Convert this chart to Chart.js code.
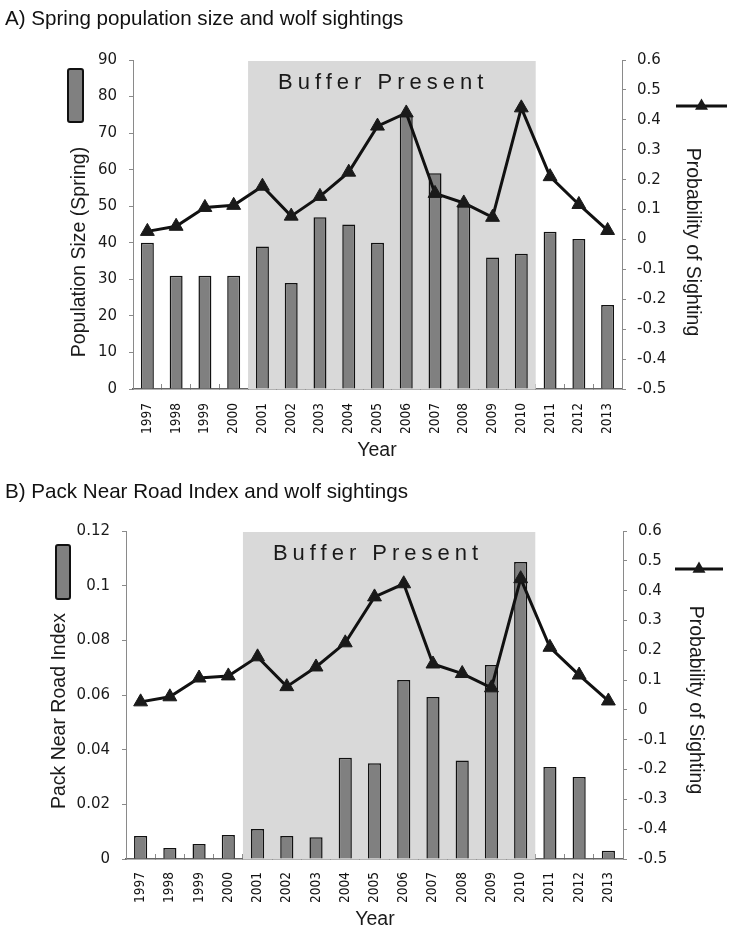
<!DOCTYPE html>
<html><head><meta charset="utf-8">
<script src="https://cdn.jsdelivr.net/npm/chart.js@4.4.1/dist/chart.umd.min.js"></script>
<style>
html,body{margin:0;padding:0;background:#fff;}
body{width:729px;height:932px;position:relative;overflow:hidden;}
.panel{position:absolute;left:0;width:729px;height:466px;}
.ttl{position:absolute;left:5px;font-family:'Liberation Sans',Arial,sans-serif;font-size:20.6px;line-height:1;color:#111;white-space:nowrap;z-index:2;}
</style></head><body>
<div class="panel" style="top:0"><canvas id="cA"></canvas></div>
<div class="panel" style="top:466px"><canvas id="cB"></canvas></div>
<div class="ttl" style="top:8px">A) Spring population size and wolf sightings</div>
<div class="ttl" style="top:481px">B) Pack Near Road Index and wolf sightings</div>
<script>
const years = ['1997','1998','1999','2000','2001','2002','2003','2004','2005','2006','2007','2008','2009','2010','2011','2012','2013'];
const popSpring = [40,31,31,31,39,29,47,45,40,75,59,50,36,37,43,41,23];
const nearRoadIndex = [0.0084,0.004,0.0055,0.0088,0.011,0.0084,0.008,0.037,0.035,0.0655,0.0593,0.036,0.071,0.1087,0.0337,0.030,0.003];
const sightProb = [0.027,0.044,0.107,0.114,0.178,0.078,0.144,0.225,0.379,0.423,0.154,0.122,0.074,0.44,0.21,0.117,0.03];
const popTicks = [0,10,20,30,40,50,60,70,80,90];
const roadTicks = [0,0.02,0.04,0.06,0.08,0.1,0.12];
const probTicks = [-0.5,-0.4,-0.3,-0.2,-0.1,0,0.1,0.2,0.3,0.4,0.5,0.6];
const bufferYears = ['2001','2010'];
const bufferLabel = 'Buffer Present';

const TICK_FONT = {family:"'DejaVu Sans', Verdana, sans-serif", size:15};
const XTICK_FONT = {family:"'DejaVu Sans Condensed', 'DejaVu Sans', sans-serif", size:13.5};
const TITLE_FONT = "19.5px 'Liberation Sans', Arial, sans-serif";

function triangle(ctx, x, y, r) {
  ctx.beginPath();
  ctx.moveTo(x, y - r);
  ctx.lineTo(x + r * 0.866, y + r * 0.5);
  ctx.lineTo(x - r * 0.866, y + r * 0.5);
  ctx.closePath();
  ctx.fill();
}

const decorPlugin = {
  id: 'decor',
  beforeDatasetsDraw(chart, args, o) {
    const {ctx, chartArea, scales: {x}} = chart;
    const i0 = years.indexOf(bufferYears[0]), i1 = years.indexOf(bufferYears[1]);
    const left = (x.getPixelForValue(i0 - 1) + x.getPixelForValue(i0)) / 2;
    const right = (x.getPixelForValue(i1) + x.getPixelForValue(i1 + 1)) / 2;
    ctx.save();
    ctx.fillStyle = '#d9d9d9';
    ctx.fillRect(left, chartArea.top + 1, right - left, chartArea.bottom - chartArea.top - 1);
    ctx.fillStyle = '#1a1a1a';
    ctx.font = "22px 'Liberation Sans', Arial, sans-serif";
    ctx.textBaseline = 'middle';
    ctx.textAlign = 'left';
    if ('letterSpacing' in ctx) ctx.letterSpacing = '5px';
    ctx.fillText(bufferLabel, left + 30, chartArea.top + 23);
    ctx.restore();
  },
  afterDraw(chart, args, o) {
    const {ctx} = chart;
    ctx.save();
    ctx.fillStyle = '#1a1a1a';
    ctx.font = TITLE_FONT;
    ctx.textAlign = 'center';
    ctx.textBaseline = 'middle';
    ctx.save(); ctx.translate(o.lx, o.ly); ctx.rotate(-Math.PI / 2); ctx.fillText(o.leftTitle, 0, 0); ctx.restore();
    ctx.save(); ctx.translate(o.rx, o.ry); ctx.rotate(Math.PI / 2); ctx.fillText(o.rightTitle, 0, 0); ctx.restore();
    ctx.fillText('Year', o.yearX, o.yearY);
    ctx.fillStyle = '#808080';
    ctx.strokeStyle = '#111';
    ctx.lineWidth = 2;
    ctx.beginPath();
    if (ctx.roundRect) ctx.roundRect(o.barLeg[0], o.barLeg[1], o.barLeg[2], o.barLeg[3], 2);
    else ctx.rect(o.barLeg[0], o.barLeg[1], o.barLeg[2], o.barLeg[3]);
    ctx.fill(); ctx.stroke();
    ctx.strokeStyle = '#111';
    ctx.lineWidth = 3;
    ctx.beginPath();
    ctx.moveTo(o.lineLeg[0], o.lineLeg[2]);
    ctx.lineTo(o.lineLeg[1], o.lineLeg[2]);
    ctx.stroke();
    ctx.fillStyle = '#1a1a1a';
    triangle(ctx, (o.lineLeg[0] + o.lineLeg[1]) / 2, o.lineLeg[2], 7.5);
    ctx.restore();
  }
};

function makeChart(id, p) {
  const axisColor = '#8a8a8a';
  return new Chart(document.getElementById(id), {
    data: {
      labels: years,
      datasets: [
        {type: 'line', data: sightProb, yAxisID: 'y2', order: 0,
         borderColor: '#111', borderWidth: 3, tension: 0,
         pointStyle: 'triangle', pointRadius: 8, pointBackgroundColor: '#1a1a1a',
         pointBorderColor: '#1a1a1a', pointBorderWidth: 1},
        {type: 'bar', data: p.bars, yAxisID: 'y', order: 1,
         backgroundColor: '#808080', borderColor: '#111', borderWidth: 1.5,
         barPercentage: 0.45, categoryPercentage: 1}
      ]
    },
    options: {
      responsive: true, maintainAspectRatio: false, animation: false,
      devicePixelRatio: 1,
      layout: {padding: {top: p.top, left: 0, right: 0, bottom: 0}},
      plugins: {legend: {display: false}, tooltip: {enabled: false}, decor: p.decor},
      scales: {
        x: {
          type: 'category', offset: true,
          grid: {offset: true, drawOnChartArea: false, tickLength: -5, color: axisColor, lineWidth: 1},
          border: {color: '#666', width: 1.5},
          ticks: {font: XTICK_FONT, color: '#111', minRotation: 90, maxRotation: 90, padding: p.xPad, autoSkip: false},
          afterFit: s => { s.height = p.xHeight; }
        },
        y: {
          position: 'left', min: p.leftTicks[0], max: p.leftTicks[p.leftTicks.length - 1],
          afterBuildTicks: s => { s.ticks = p.leftTicks.map(v => ({value: v})); },
          grid: {drawOnChartArea: false, tickLength: 4, color: axisColor},
          border: {color: axisColor, width: 1},
          ticks: {font: TICK_FONT, color: '#1a1a1a', padding: 12, callback: v => String(v)},
          afterFit: s => { s.width = p.leftWidth; }
        },
        y2: {
          position: 'right', min: probTicks[0], max: probTicks[probTicks.length - 1],
          afterBuildTicks: s => { s.ticks = probTicks.map(v => ({value: v})); },
          grid: {drawOnChartArea: false, tickLength: 4, color: axisColor},
          border: {color: axisColor, width: 1},
          ticks: {font: TICK_FONT, color: '#1a1a1a', padding: 11, callback: v => String(v)},
          afterFit: s => { s.width = p.rightWidth; }
        }
      }
    },
    plugins: [decorPlugin]
  });
}

makeChart('cA', {
  bars: popSpring, leftTicks: popTicks, top: 60, xHeight: 77, xPad: 19, leftWidth: 133, rightWidth: 107,
  decor: {leftTitle: 'Population Size (Spring)', lx: 80, ly: 252,
          rightTitle: 'Probability of Sighting', rx: 692, ry: 242,
          yearX: 377, yearY: 451, barLeg: [68, 69, 15, 53], lineLeg: [676, 727, 106]}
});
makeChart('cB', {
  bars: nearRoadIndex, leftTicks: roadTicks, top: 65, xHeight: 73, xPad: 18, leftWidth: 126, rightWidth: 106,
  decor: {leftTitle: 'Pack Near Road Index', lx: 60, ly: 245,
          rightTitle: 'Probability of Sighting', rx: 695, ry: 234,
          yearX: 375, yearY: 454, barLeg: [56, 79, 14, 54], lineLeg: [675, 723, 103]}
});
</script>
</body></html>
